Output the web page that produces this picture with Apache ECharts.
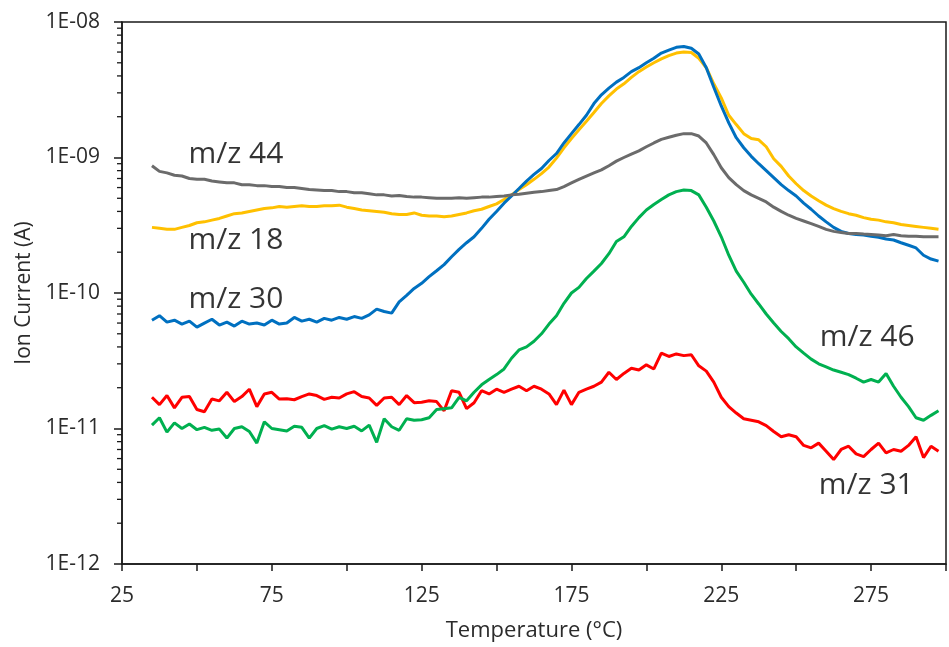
<!DOCTYPE html>
<html>
<head>
<meta charset="utf-8">
<script src="https://cdn.jsdelivr.net/npm/echarts@6/dist/echarts.min.js"></script>
<style>
  html, body { margin: 0; padding: 0; background: #fff; }
  #chart { width: 949px; height: 647px; }
</style>
</head>
<body>
<div id="chart"></div>
<script>
// Temperature (°C)
const temps = [
  35,37.5,40,42.5,45,47.5,50,52.5,55,57.5,
  60,62.5,65,67.5,70,72.5,75,77.5,80,82.5,
  85,87.5,90,92.5,95,97.5,100,102.5,105,107.5,
  110,112.5,115,117.5,120,122.5,125,127.5,130,132.5,
  135,137.5,140,142.5,145,147.5,150,152.5,155,157.5,
  160,162.5,165,167.5,170,172.5,175,177.5,180,182.5,
  185,187.5,190,192.5,195,197.5,200,202.5,205,207.5,
  210,212.5,215,217.5,220,222.5,225,227.5,230,232.5,
  235,237.5,240,242.5,245,247.5,250,252.5,255,257.5,
  260,262.5,265,267.5,270,272.5,275,277.5,280,282.5,
  285,287.5,290,292.5,295,297.5
];

// m/z 44 (grey)
const mz44 = [
  8.7e-10,7.9e-10,7.7e-10,7.4e-10,7.3e-10,7.0e-10,6.9e-10,6.9e-10,6.7e-10,6.6e-10,
  6.5e-10,6.5e-10,6.3e-10,6.3e-10,6.2e-10,6.2e-10,6.1e-10,6.1e-10,6.0e-10,6.0e-10,
  5.9e-10,5.8e-10,5.75e-10,5.7e-10,5.7e-10,5.6e-10,5.6e-10,5.5e-10,5.5e-10,5.4e-10,
  5.3e-10,5.3e-10,5.2e-10,5.25e-10,5.15e-10,5.1e-10,5.1e-10,5.05e-10,5.0e-10,5.0e-10,
  5.0e-10,5.05e-10,5.0e-10,5.05e-10,5.1e-10,5.1e-10,5.15e-10,5.2e-10,5.3e-10,5.35e-10,
  5.45e-10,5.55e-10,5.6e-10,5.7e-10,5.8e-10,6.1e-10,6.5e-10,6.9e-10,7.3e-10,7.7e-10,
  8.1e-10,8.7e-10,9.4e-10,1.0e-9,1.06e-9,1.12e-9,1.2e-9,1.28e-9,1.36e-9,1.41e-9,
  1.46e-9,1.5e-9,1.5e-9,1.44e-9,1.28e-9,1.05e-9,8.4e-10,7.1e-10,6.3e-10,5.7e-10,
  5.3e-10,5.0e-10,4.7e-10,4.3e-10,4.0e-10,3.75e-10,3.55e-10,3.4e-10,3.25e-10,3.1e-10,
  2.95e-10,2.85e-10,2.8e-10,2.75e-10,2.75e-10,2.72e-10,2.7e-10,2.68e-10,2.65e-10,2.7e-10,
  2.65e-10,2.62e-10,2.62e-10,2.6e-10,2.6e-10,2.6e-10
];

// m/z 18 (yellow)
const mz18 = [
  3.05e-10,3.0e-10,2.95e-10,2.95e-10,3.05e-10,3.15e-10,3.3e-10,3.35e-10,3.45e-10,3.55e-10,
  3.7e-10,3.85e-10,3.9e-10,4.0e-10,4.1e-10,4.2e-10,4.25e-10,4.35e-10,4.3e-10,4.35e-10,
  4.4e-10,4.35e-10,4.35e-10,4.4e-10,4.4e-10,4.45e-10,4.3e-10,4.2e-10,4.1e-10,4.05e-10,
  4.0e-10,3.95e-10,3.85e-10,3.8e-10,3.8e-10,3.9e-10,3.75e-10,3.7e-10,3.7e-10,3.65e-10,
  3.7e-10,3.8e-10,3.9e-10,4.05e-10,4.15e-10,4.35e-10,4.55e-10,4.9e-10,5.3e-10,5.8e-10,
  6.3e-10,6.9e-10,7.6e-10,8.5e-10,9.9e-10,1.18e-9,1.38e-9,1.6e-9,1.85e-9,2.15e-9,
  2.5e-9,2.85e-9,3.2e-9,3.5e-9,3.9e-9,4.3e-9,4.65e-9,5.0e-9,5.35e-9,5.65e-9,
  5.9e-9,6.0e-9,5.95e-9,5.4e-9,4.6e-9,3.5e-9,2.75e-9,2.05e-9,1.75e-9,1.5e-9,
  1.38e-9,1.35e-9,1.2e-9,9.8e-10,8.6e-10,7.3e-10,6.4e-10,5.7e-10,5.2e-10,4.8e-10,
  4.45e-10,4.2e-10,4.0e-10,3.85e-10,3.75e-10,3.6e-10,3.5e-10,3.45e-10,3.35e-10,3.3e-10,
  3.2e-10,3.15e-10,3.1e-10,3.05e-10,3.0e-10,2.95e-10
];

// m/z 30 (blue)
const mz30 = [
  6.3e-11,6.8e-11,6.1e-11,6.3e-11,5.9e-11,6.2e-11,5.6e-11,6.0e-11,6.4e-11,5.8e-11,
  6.1e-11,5.7e-11,6.2e-11,5.9e-11,6.0e-11,5.8e-11,6.3e-11,5.9e-11,6.0e-11,6.6e-11,
  6.2e-11,6.4e-11,6.1e-11,6.5e-11,6.3e-11,6.6e-11,6.4e-11,6.7e-11,6.5e-11,6.9e-11,
  7.6e-11,7.3e-11,7.1e-11,8.6e-11,9.6e-11,1.08e-10,1.18e-10,1.32e-10,1.46e-10,1.62e-10,
  1.85e-10,2.1e-10,2.35e-10,2.6e-10,3.0e-10,3.5e-10,4.0e-10,4.6e-10,5.2e-10,5.9e-10,
  6.7e-10,7.5e-10,8.3e-10,9.5e-10,1.07e-9,1.28e-9,1.5e-9,1.75e-9,2.05e-9,2.5e-9,
  2.9e-9,3.25e-9,3.6e-9,3.9e-9,4.3e-9,4.6e-9,5.0e-9,5.4e-9,5.9e-9,6.2e-9,
  6.5e-9,6.6e-9,6.4e-9,5.8e-9,4.6e-9,3.3e-9,2.4e-9,1.8e-9,1.4e-9,1.18e-9,
  1.02e-9,9.0e-10,8.0e-10,7.1e-10,6.3e-10,5.7e-10,5.2e-10,4.6e-10,4.15e-10,3.7e-10,
  3.35e-10,3.05e-10,2.85e-10,2.75e-10,2.7e-10,2.68e-10,2.62e-10,2.58e-10,2.5e-10,2.46e-10,
  2.35e-10,2.25e-10,2.15e-10,1.9e-10,1.78e-10,1.72e-10
];

// m/z 46 (green)
const mz46 = [
  1.06e-11,1.2e-11,9.4e-12,1.1e-11,1.0e-11,1.08e-11,9.8e-12,1.02e-11,9.7e-12,9.9e-12,
  8.5e-12,1.0e-11,1.03e-11,9.5e-12,7.8e-12,1.12e-11,1.0e-11,9.8e-12,9.6e-12,1.04e-11,
  1.02e-11,8.5e-12,1.0e-11,1.05e-11,9.9e-12,1.03e-11,1.0e-11,1.04e-11,9.6e-12,1.06e-11,
  7.9e-12,1.18e-11,1.03e-11,9.7e-12,1.18e-11,1.15e-11,1.16e-11,1.2e-11,1.38e-11,1.4e-11,
  1.42e-11,1.7e-11,1.6e-11,1.85e-11,2.1e-11,2.3e-11,2.5e-11,2.75e-11,3.3e-11,3.8e-11,
  4.0e-11,4.4e-11,5.0e-11,5.9e-11,6.8e-11,8.4e-11,1.0e-10,1.1e-10,1.28e-10,1.45e-10,
  1.65e-10,1.95e-10,2.4e-10,2.6e-10,3.1e-10,3.6e-10,4.1e-10,4.5e-10,4.9e-10,5.3e-10,
  5.6e-10,5.75e-10,5.7e-10,5.3e-10,4.3e-10,3.4e-10,2.6e-10,1.9e-10,1.45e-10,1.2e-10,
  9.8e-11,8.3e-11,7.0e-11,6.0e-11,5.2e-11,4.6e-11,4.0e-11,3.6e-11,3.25e-11,3.0e-11,
  2.85e-11,2.7e-11,2.6e-11,2.5e-11,2.35e-11,2.2e-11,2.3e-11,2.2e-11,2.55e-11,2.05e-11,
  1.7e-11,1.45e-11,1.2e-11,1.15e-11,1.25e-11,1.35e-11
];

// m/z 31 (red)
const mz31 = [
  1.7e-11,1.5e-11,1.75e-11,1.42e-11,1.7e-11,1.72e-11,1.38e-11,1.33e-11,1.65e-11,1.6e-11,
  1.85e-11,1.58e-11,1.72e-11,1.95e-11,1.45e-11,1.8e-11,1.85e-11,1.65e-11,1.66e-11,1.63e-11,
  1.72e-11,1.8e-11,1.75e-11,1.64e-11,1.7e-11,1.68e-11,1.8e-11,1.87e-11,1.72e-11,1.68e-11,
  1.48e-11,1.68e-11,1.7e-11,1.5e-11,1.75e-11,1.55e-11,1.56e-11,1.6e-11,1.58e-11,1.35e-11,
  1.9e-11,1.85e-11,1.4e-11,1.55e-11,1.9e-11,1.8e-11,1.95e-11,1.85e-11,1.95e-11,2.05e-11,
  1.9e-11,2.05e-11,1.95e-11,1.8e-11,1.5e-11,1.92e-11,1.5e-11,1.85e-11,1.95e-11,2.05e-11,
  2.2e-11,2.6e-11,2.3e-11,2.55e-11,2.78e-11,2.7e-11,2.95e-11,2.75e-11,3.6e-11,3.4e-11,
  3.55e-11,3.45e-11,3.5e-11,2.9e-11,2.65e-11,2.2e-11,1.7e-11,1.45e-11,1.3e-11,1.18e-11,
  1.15e-11,1.12e-11,1.05e-11,9.5e-12,8.7e-12,9.0e-12,8.7e-12,7.5e-12,7.2e-12,7.8e-12,
  6.8e-12,5.9e-12,7.0e-12,7.4e-12,6.5e-12,6.2e-12,7.0e-12,7.8e-12,6.6e-12,7.0e-12,
  6.8e-12,7.5e-12,8.7e-12,6.1e-12,7.4e-12,6.8e-12
];

// Axis tick labels
const xTickLabels = ['25','75','125','175','225','275'];
const yTickLabels = ['1E-12','1E-11','1E-10','1E-09','1E-08'];

// In-plot series labels (data coordinates)
const labelTexts = ['m/z 44','m/z 18','m/z 30','m/z 46','m/z 31'];
const labelX = [63, 63, 63, 273.7, 273.4];
const labelY = [1.06e-9, 2.46e-10, 9.0e-11, 4.66e-11, 3.83e-12];

const FONT = 'Open Sans';
const TXT = '#2b2b2b';
const AX = '#1a1a1a';

const toPairs = arr => temps.map((t, i) => [t, arr[i]]);

// minor log ticks (2..9 within each decade)
const minorTickVals = [];
for (let e = -12; e < -8; e++) {
  for (let m = 2; m <= 9; m++) minorTickVals.push([25, m * Math.pow(10, e)]);
}

function lineSeries(name, arr, color) {
  return {
    name, type: 'line', data: toPairs(arr), showSymbol: false, symbol: 'none',
    lineStyle: { color, width: 3 }, itemStyle: { color },
    smooth: false, z: 3
  };
}

const chart = echarts.init(document.getElementById('chart'), null, { renderer: 'canvas' });
chart.setOption({
  animation: false,
  backgroundColor: '#ffffff',
  grid: {
    left: 122, top: 22, bottom: 83, right: -8,
    show: true, borderColor: AX, borderWidth: 1.5, backgroundColor: 'transparent'
  },
  xAxis: {
    type: 'value', min: 25, max: 300, interval: 25,
    name: 'Temperature (°C)', nameLocation: 'middle', nameGap: 56,
    nameTextStyle: { fontFamily: FONT, fontSize: 22, color: TXT },
    axisLine: { show: true, lineStyle: { color: AX, width: 1.5 } },
    axisTick: { show: true, inside: false, length: 7, lineStyle: { color: AX, width: 1.5 } },
    axisLabel: {
      fontFamily: FONT, fontSize: 21, color: TXT, margin: 22,
      formatter: v => xTickLabels.includes(String(v)) ? String(v) : ''
    },
    splitLine: { show: false }
  },
  yAxis: {
    type: 'log', logBase: 10, min: 1e-12, max: 1e-8,
    name: 'Ion Current (A)', nameLocation: 'middle', nameGap: 86,
    nameTextStyle: { fontFamily: FONT, fontSize: 21, color: TXT },
    axisLine: { show: true, lineStyle: { color: AX, width: 1.5 } },
    axisTick: { show: true, inside: false, length: 8, lineStyle: { color: AX, width: 1.5 } },
    axisLabel: {
      fontFamily: FONT, fontSize: 21, color: TXT, margin: 22,
      formatter: v => yTickLabels[Math.round(Math.log10(v)) + 12]
    },
    splitLine: { show: false }
  },
  series: [
    lineSeries('m/z 31', mz31, '#ff0000'),
    lineSeries('m/z 46', mz46, '#00b050'),
    lineSeries('m/z 18', mz18, '#ffc000'),
    lineSeries('m/z 30', mz30, '#0070c0'),
    lineSeries('m/z 44', mz44, '#6b6b6b'),
    {
      type: 'custom', name: 'minorTicks', silent: true, clip: false, z: 5,
      data: minorTickVals,
      renderItem: (params, api) => {
        const p = api.coord([api.value(0), api.value(1)]);
        return {
          type: 'line',
          shape: { x1: p[0] - 5, y1: p[1], x2: p[0], y2: p[1] },
          style: { stroke: AX, lineWidth: 1.3 }
        };
      }
    },
    {
      type: 'scatter', name: 'labels', silent: true, z: 6,
      symbolSize: 1, itemStyle: { color: 'rgba(0,0,0,0)' },
      data: labelTexts.map((t, i) => ({ value: [labelX[i], labelY[i]], name: t })),
      label: {
        show: true, position: 'inside', formatter: p => p.name,
        fontFamily: FONT, fontSize: 30, color: '#000000', textBorderWidth: 0
      }
    }
  ]
});
</script>
</body>
</html>
